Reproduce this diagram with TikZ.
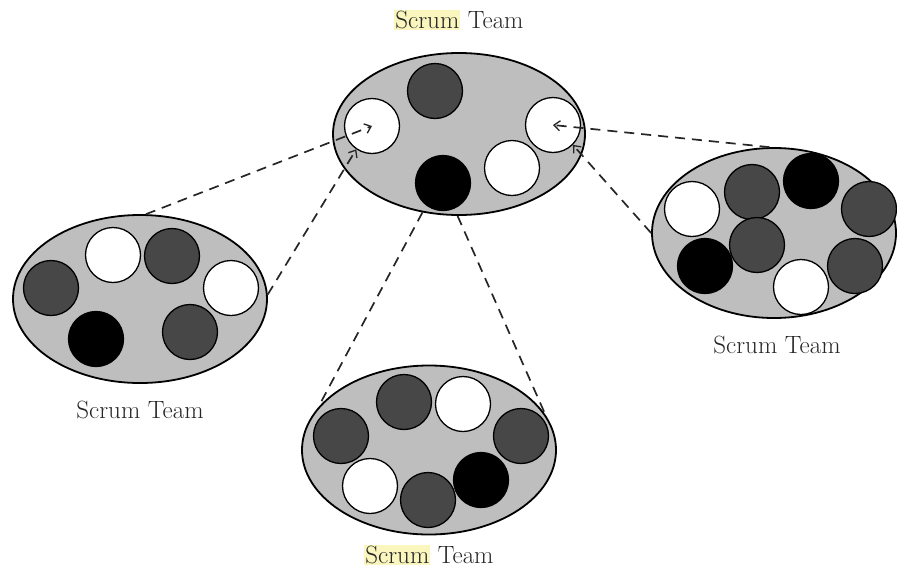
\documentclass[tikz,border=0pt]{standalone}
\usetikzlibrary{arrows.meta, shapes.geometric}

\definecolor{teamgray}{HTML}{BEBEBE}
\definecolor{memberdark}{HTML}{474747}
\definecolor{hlyellow}{HTML}{FAF6BE}
\definecolor{labeltext}{HTML}{262626}
\newcommand{\hlword}[1]{{\setlength{\fboxsep}{1pt}\colorbox{hlyellow}{#1}}}

\begin{document}
\begin{tikzpicture}[x=1pt, y=-1pt,
    team/.style={draw, ellipse, fill=teamgray, line width=1.8pt, inner sep=0pt},
    member/.style={draw, circle, minimum size=55pt, inner sep=0pt, line width=1.3pt},
    dk/.style={member, fill=memberdark},
    bk/.style={member, fill=black},
    wh/.style={member, fill=white},
    link/.style={line width=1.7pt, draw=black!85, dash pattern=on 10pt off 7pt},
    arrow/.style={link, -{Straight Barb[length=6pt, width=10pt, line width=1.3pt]}},
    teamlabel/.style={font=\fontsize{25}{29}\selectfont, text=labeltext, inner sep=1pt}
  ]
  \useasboundingbox (0,0) rectangle (897,571);

  % teams
  \node[team, minimum width=252pt, minimum height=162pt] (topteam) at (459,134) {};
  \node[team, minimum width=254pt, minimum height=168pt] (leftteam) at (140,299) {};
  \node[team, minimum width=254pt, minimum height=169pt] (bottomteam) at (429,450) {};
  \node[team, minimum width=244pt, minimum height=170pt] (rightteam) at (774,233) {};

  % members of the top team
  \node[dk] (top1) at (435,91) {};
  \node[wh] (top2) at (372,126) {};
  \node[bk] (top3) at (443,183) {};
  \node[wh] (top4) at (512,168) {};
  \node[wh] (top5) at (553,125) {};

  % members of the left team
  \node[wh] (left1) at (113,255) {};
  \node[dk] (left2) at (172,256) {};
  \node[dk] (left3) at (51,288) {};
  \node[wh] (left4) at (231,288) {};
  \node[bk] (left5) at (96,339) {};
  \node[dk] (left6) at (190,332) {};

  % members of the bottom team
  \node[dk] (bottom1) at (341,436) {};
  \node[dk] (bottom2) at (404,402) {};
  \node[wh] (bottom3) at (463,404) {};
  \node[dk] (bottom4) at (521,436) {};
  \node[wh] (bottom5) at (370,486) {};
  \node[dk] (bottom6) at (428,500) {};
  \node[bk] (bottom7) at (481,480) {};

  % members of the right team
  \node[wh] (right1) at (692,209) {};
  \node[dk] (right2) at (752,192) {};
  \node[bk] (right3) at (811,181) {};
  \node[dk] (right4) at (869,209) {};
  \node[dk] (right5) at (757,245) {};
  \node[bk] (right6) at (705,266) {};
  \node[wh] (right7) at (801,287) {};
  \node[dk] (right8) at (855,266) {};

  % labels
  \node[teamlabel] (toplabel) at (459,20) {\hlword{Scrum} Team};
  \node[teamlabel] (leftlabel) at (140,410) {Scrum Team};
  \node[teamlabel] (bottomlabel) at (429,555) {\hlword{Scrum} Team};
  \node[teamlabel] (rightlabel) at (777,345) {Scrum Team};

  % links between the teams
  \draw[arrow] (leftteam.86) -- (top2.center);
  \draw[arrow] (leftteam.2) -- (top2.236);
  \draw[arrow] (rightteam.93) -- (top5.center);
  \draw[arrow] (rightteam.180) -- (top5.-45);
  \draw[link] (topteam.245) -- (bottomteam.159);
  \draw[link] (topteam.269) -- (bottomteam.17);
\end{tikzpicture}
\end{document}
